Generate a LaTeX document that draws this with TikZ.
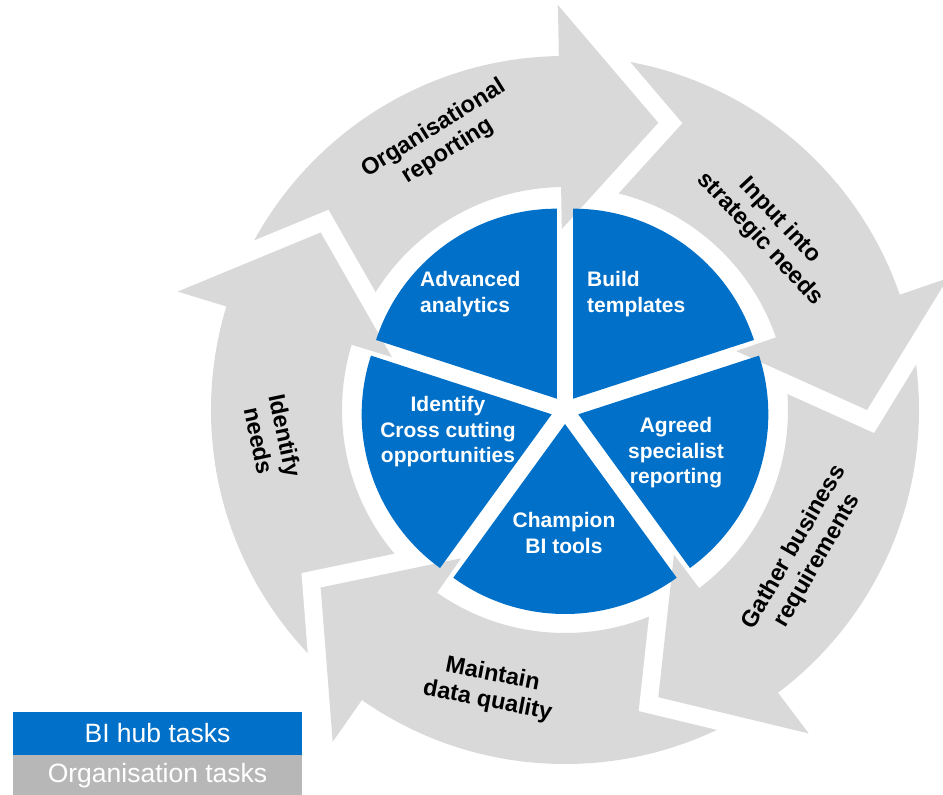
\documentclass[tikz,border=0pt]{standalone}
\usepackage{fontspec}
\setmainfont{Liberation Sans}
\definecolor{hubblue}{RGB}{0,112,200}
\definecolor{ringgrey}{RGB}{217,217,217}
\definecolor{leggrey}{RGB}{183,183,183}
\begin{document}
\begin{tikzpicture}[x=1pt,y=1pt,
  pielabel/.style={text=white,font=\fontsize{21}{25.5}\selectfont\bfseries,inner sep=0pt},
  ringlabel/.style={text=black,font=\fontsize{23.5}{27}\selectfont\bfseries,inner sep=0pt,align=center},
  legbox/.style={minimum width=289pt,inner sep=0pt,text=white,font=\fontsize{26.5}{30}\selectfont},
  wedge/.style={fill=hubblue},
  gap/.style={draw=white,line width=36pt,line join=miter,line cap=butt}]
\useasboundingbox (-565,-385) rectangle (378,410);
% grey ring of five arrows
\fill[ringgrey,even odd rule] (0,0) circle[radius=354pt] (0,0) circle[radius=223pt];
\foreach \k in {0,...,4}{
  \pgfmathsetmacro\headback{91-72*\k}
  \pgfmathsetmacro\headtip{\headback-19}
  \path[gap] (\headback:405) -- (\headtip:302) -- (\headback:181);
  \fill[ringgrey] (\headback:405) -- (\headtip:302) -- (\headback:181) -- cycle;
}
% blue pie
\foreach \s/\e in {18/90,-54/18,-126/-54,162/234,90/162}{
  \pgfmathsetmacro\mid{(\s+\e)/2}
  \fill[wedge,shift={(\mid:14)}] (0,0) -- (\s:190) arc[start angle=\s,end angle=\e,radius=190pt] -- cycle;
}
% pie labels
\node[pielabel,anchor=west,align=left] (adv) at (-145,116) {Advanced\\analytics};
\node[pielabel,anchor=west,align=left] (build) at (22,116) {Build\\templates};
\node[pielabel,align=center] (ident) at (-117,-22) {Identify\\Cross cutting\\opportunities};
\node[pielabel,align=center] (agreed) at (111,-43) {Agreed\\specialist\\reporting};
\node[pielabel,align=center] (champ) at (-1,-123) {Champion\\BI tools};
% ring labels
\node[ringlabel,rotate=32] (org) at (-124,270) {Organisational\\reporting};
\node[ringlabel,rotate=-47] (input) at (205,180) {Input into\\strategic needs};
\node[ringlabel,rotate=60] (gather) at (241,-144) {Gather business\\requirements};
\node[ringlabel,rotate=-11] (maint) at (-75,-278) {Maintain\\data quality};
\node[ringlabel,rotate=-78] (needs) at (-293,-28) {Identify\\needs};
% legend
\node[legbox,fill=hubblue,minimum height=43pt] (hub) at (-407.5,-323.5) {BI hub tasks};
\node[legbox,fill=leggrey,minimum height=40pt,anchor=north] (orgt) at (hub.south) {Organisation tasks};
\end{tikzpicture}
\end{document}
